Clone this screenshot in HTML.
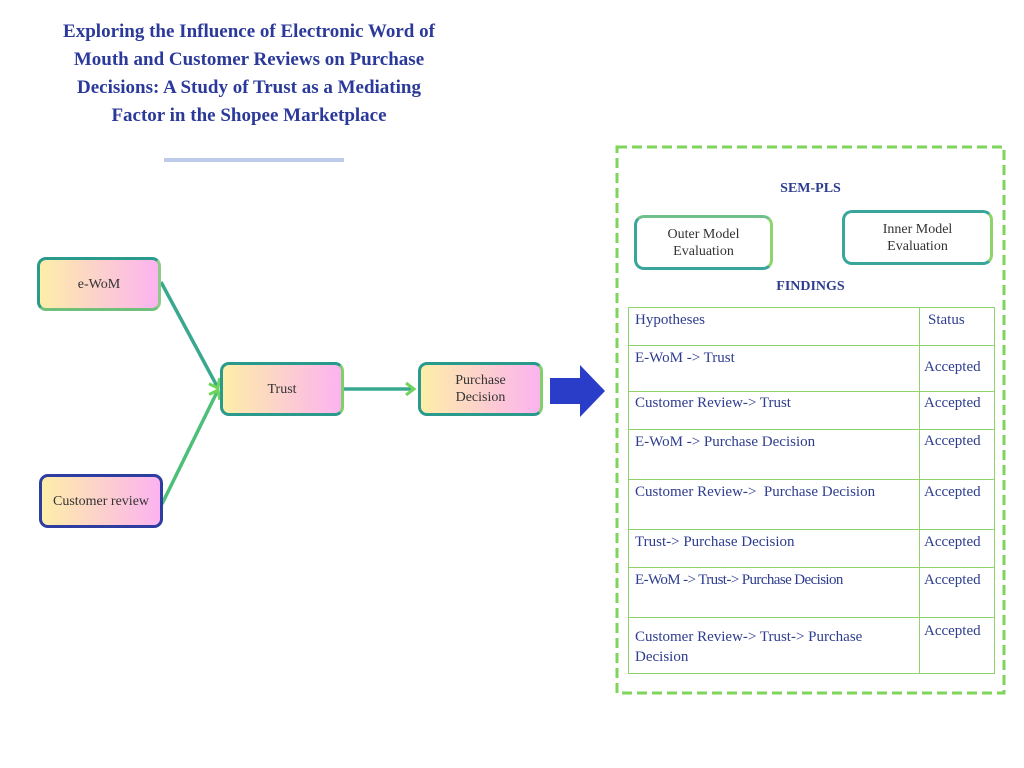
<!DOCTYPE html>
<html><head><meta charset="utf-8"><style>
body{margin:0;width:1024px;height:768px;background:#fff;position:relative;font-family:"Liberation Serif",serif;overflow:hidden}
.a{position:absolute}
.title{left:20px;top:18px;width:458px;text-align:center;color:#2b3a9a;font-weight:bold;font-size:19px;line-height:28px;white-space:nowrap}
.node{position:absolute;box-sizing:border-box;border:3px solid #2a9a8c;border-radius:9px;background:linear-gradient(90deg,#fdeea8,#fcb3f0);display:flex;align-items:center;justify-content:center;text-align:center;font-size:14px;color:#333;line-height:17px}
.ev{position:absolute;box-sizing:border-box;border:3px solid #3aa59a;border-radius:10px;background:#fff;display:flex;align-items:center;justify-content:center;text-align:center;font-size:14px;color:#333;line-height:17px}
.hd{color:#2e3d8f;font-weight:bold;font-size:14px;text-align:center}
.t{position:absolute;color:#2e3d8f;font-size:15px;line-height:20px}
.h{position:absolute;background:#8fd46a;height:1px}
.v{position:absolute;background:#8fd46a;width:1px}
</style></head><body>
<div class="a title">Exploring the Influence of Electronic Word of<br>Mouth and Customer Reviews on Purchase<br>Decisions: A Study of Trust as a Mediating<br>Factor in the Shopee Marketplace</div>
<div class="a" style="left:164px;top:158px;width:180px;height:4px;background:#bccbe9"></div>

<svg class="a" style="left:0;top:0" width="1024" height="768">
<defs><marker id="m" markerWidth="14" markerHeight="14" refX="10" refY="7" orient="auto" markerUnits="userSpaceOnUse"><path d="M2,1 L10,7 L2,13" fill="none" stroke="#6fd45c" stroke-width="3"/></marker></defs>
<line x1="161" y1="282" x2="218" y2="388" stroke="#3aa88f" stroke-width="3.5" marker-end="url(#m)"/>
<line x1="162" y1="504" x2="218" y2="390" stroke="#4cbf78" stroke-width="3.5" marker-end="url(#m)"/>
<line x1="344" y1="389" x2="414" y2="389" stroke="#3aa88f" stroke-width="3.5" marker-end="url(#m)"/>
<polygon points="550,378 580,378 580,365 605,391 580,417 580,404 550,404" fill="#2a3dc8"/>
<rect x="617" y="147" width="387" height="546" fill="none" stroke="#7fd45c" stroke-width="3" stroke-dasharray="10,5"/>
</svg>

<div class="node" style="left:37px;top:257px;width:124px;height:54px;border-right-color:#8fc98a;border-bottom-color:#6fc07a">e-WoM</div>
<div class="node" style="left:39px;top:474px;width:124px;height:54px;border-color:#2e3ea0">Customer review</div>
<div class="node" style="left:220px;top:362px;width:124px;height:54px;border-right-color:#7fcf6a;border-bottom-color:#2a9a8c">Trust</div>
<div class="node" style="left:418px;top:362px;width:125px;height:54px;border-right-color:#7fcf6a">Purchase<br>Decision</div>

<div class="a hd" style="left:617px;top:181px;width:387px">SEM-PLS</div>
<div class="ev" style="left:634px;top:215px;width:139px;height:55px;border-right-color:#8fd46a;border-top-color:#6fc08a">Outer Model<br>Evaluation</div>
<div class="ev" style="left:842px;top:210px;width:151px;height:55px;border-right-color:#8fd46a">Inner Model<br>Evaluation</div>
<div class="a hd" style="left:617px;top:279px;width:387px">FINDINGS</div>

<div class="h" style="left:628px;top:307px;width:366px"></div>
<div class="h" style="left:628px;top:345px;width:366px"></div>
<div class="h" style="left:628px;top:391px;width:366px"></div>
<div class="h" style="left:628px;top:429px;width:366px"></div>
<div class="h" style="left:628px;top:479px;width:366px"></div>
<div class="h" style="left:628px;top:529px;width:366px"></div>
<div class="h" style="left:628px;top:567px;width:366px"></div>
<div class="h" style="left:628px;top:617px;width:366px"></div>
<div class="h" style="left:628px;top:673px;width:366px"></div>
<div class="v" style="left:628px;top:307px;height:367px"></div>
<div class="v" style="left:919px;top:307px;height:367px"></div>
<div class="v" style="left:994px;top:307px;height:367px"></div>

<div class="t" style="left:635px;top:310px">Hypotheses</div><div class="t" style="left:928px;top:310px">Status</div>
<div class="t" style="left:635px;top:348px">E-WoM -&gt; Trust</div><div class="t" style="left:924px;top:357px">Accepted</div>
<div class="t" style="left:635px;top:393px">Customer Review-&gt; Trust</div><div class="t" style="left:924px;top:393px">Accepted</div>
<div class="t" style="left:635px;top:432px">E-WoM -&gt; Purchase Decision</div><div class="t" style="left:924px;top:431px">Accepted</div>
<div class="t" style="left:635px;top:482px">Customer Review-&gt;&nbsp; Purchase Decision</div><div class="t" style="left:924px;top:482px">Accepted</div>
<div class="t" style="left:635px;top:532px">Trust-&gt; Purchase Decision</div><div class="t" style="left:924px;top:532px">Accepted</div>
<div class="t" style="left:635px;top:570px;letter-spacing:-0.6px">E-WoM -&gt; Trust-&gt; Purchase Decision</div><div class="t" style="left:924px;top:570px">Accepted</div>
<div class="t" style="left:635px;top:627px;width:280px">Customer Review-&gt; Trust-&gt; Purchase Decision</div><div class="t" style="left:924px;top:621px">Accepted</div>
</body></html>
